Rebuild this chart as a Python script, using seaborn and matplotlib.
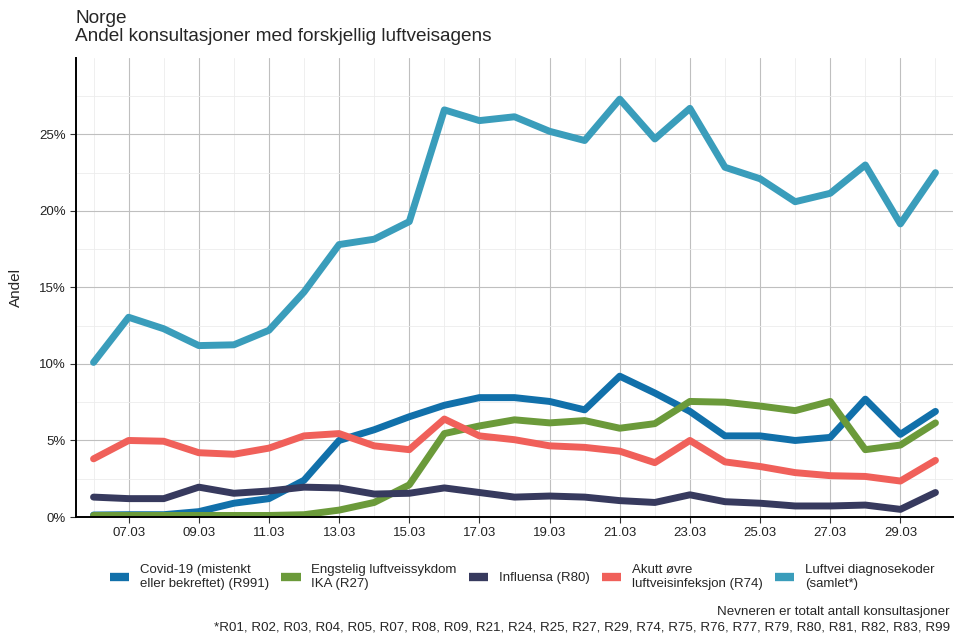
import pandas as pd
import numpy as np
import matplotlib
matplotlib.use('Agg')
import matplotlib.pyplot as plt
import matplotlib.dates as mdates
from matplotlib.ticker import PercentFormatter, MultipleLocator
import seaborn as sns

# dager 06.03 - 30.03
datoer = pd.date_range('2020-03-06', '2020-03-30', freq='D')

# andel i prosent, lest av figuren
covid = [0.13, 0.15, 0.15, 0.35, 0.9, 1.2, 2.4, 5.0, 5.7, 6.55, 7.3, 7.8, 7.8,
         7.55, 7.0, 9.2, 8.1, 6.9, 5.3, 5.3, 5.0, 5.2, 7.7, 5.4, 6.9]
ika = [0.1, 0.1, 0.1, 0.1, 0.1, 0.1, 0.15, 0.45, 0.95, 2.1, 5.45, 5.95, 6.35,
       6.15, 6.3, 5.8, 6.1, 7.55, 7.5, 7.25, 6.95, 7.55, 4.4, 4.7, 6.15]
influensa = [1.3, 1.2, 1.2, 1.95, 1.55, 1.7, 1.95, 1.9, 1.5, 1.55, 1.9, 1.6, 1.3,
             1.37, 1.3, 1.07, 0.95, 1.45, 1.0, 0.9, 0.72, 0.72, 0.78, 0.5, 1.6]
akutt = [3.8, 5.0, 4.95, 4.2, 4.1, 4.5, 5.3, 5.45, 4.65, 4.4, 6.4, 5.3, 5.05,
         4.65, 4.55, 4.3, 3.55, 5.0, 3.6, 3.3, 2.9, 2.7, 2.65, 2.35, 3.7]
luftvei = [10.1, 13.05, 12.3, 11.2, 11.25, 12.2, 14.7, 17.8, 18.15, 19.3, 26.6, 25.9, 26.15,
           25.2, 24.6, 27.3, 24.7, 26.7, 22.85, 22.1, 20.6, 21.15, 23.0, 19.15, 22.5]

serier = ['Covid-19 (mistenkt\neller bekreftet) (R991)',
          'Engstelig luftveissykdom\nIKA (R27)',
          'Influensa (R80)',
          'Akutt øvre\nluftveisinfeksjon (R74)',
          'Luftvei diagnosekoder\n(samlet*)']
farger = ['#1170aa', '#6b9a3a', '#373a5e', '#f0605a', '#3a9dbb']

df = pd.concat([
    pd.DataFrame({'dato': datoer, 'andel': np.array(v) / 100, 'serie': s})
    for s, v in zip(serier, [covid, ika, influensa, akutt, luftvei])
])

sns.set_style('white')
plt.rcParams['font.family'] = ['Liberation Sans', 'DejaVu Sans']

fig, ax = plt.subplots(figsize=(9.55, 6.35), dpi=100)
fig.subplots_adjust(left=76/955, right=953/955, bottom=1-517/635, top=1-58/635)

sns.lineplot(data=df, x='dato', y='andel', hue='serie', hue_order=serier,
             palette=farger, linewidth=5, ax=ax)

handles, labels = ax.get_legend_handles_labels()
ax.get_legend().remove()
for h in handles:
    h.set_linewidth(6)
    h.set_solid_capstyle('butt')

# akser
ax.set_xlim(datoer[0] - pd.Timedelta(hours=12), datoer[-1] + pd.Timedelta(hours=12))
ax.set_ylim(0, 0.2999)
ax.xaxis.set_major_locator(mdates.DayLocator(bymonthday=range(7, 31, 2)))
ax.xaxis.set_minor_locator(mdates.DayLocator())
ax.xaxis.set_major_formatter(mdates.DateFormatter('%d.%m'))
ax.yaxis.set_major_locator(MultipleLocator(0.05))
ax.yaxis.set_minor_locator(MultipleLocator(0.025))
ax.yaxis.set_major_formatter(PercentFormatter(1, decimals=0))

ax.grid(which='major', color='#bfbfbf', linewidth=0.8)
ax.grid(which='minor', color='#ececec', linewidth=0.6)
ax.set_axisbelow(True)
for side in ['top', 'right']:
    ax.spines[side].set_visible(False)
for side in ['left', 'bottom']:
    ax.spines[side].set_color('black')
    ax.spines[side].set_linewidth(1.4)
ax.tick_params(which='major', length=4, width=0.8, color='#333333',
               labelsize=9.5, labelcolor='#222222', bottom=True, left=True)
ax.tick_params(which='minor', length=0)

ax.set_xlabel('')
ax.set_ylabel('Andel', fontsize=11)
ax.yaxis.set_label_coords(-0.06, 0.5)

fig.text(75/955, 1-10/635, 'Norge\nAndel konsultasjoner med forskjellig luftveisagens',
         ha='left', va='top', fontsize=13.7, linespacing=1.08)

fig.legend(handles, labels, loc='center', bbox_to_anchor=(522/955, 1-577/635),
           ncol=5, frameon=False, fontsize=9.5, handlelength=1.5,
           handletextpad=0.8, columnspacing=0.9, labelspacing=0.2)

fig.text(950/955, 1-612/635, 'Nevneren er totalt antall konsultasjoner',
         ha='right', va='center', fontsize=9.6)
fig.text(950/955, 1-628/635,
         '*R01, R02, R03, R04, R05, R07, R08, R09, R21, R24, R25, R27, R29, R74, R75, '
         'R76, R77, R79, R80, R81, R82, R83, R99',
         ha='right', va='center', fontsize=9.6)

fig.savefig('out.png', dpi=100)
